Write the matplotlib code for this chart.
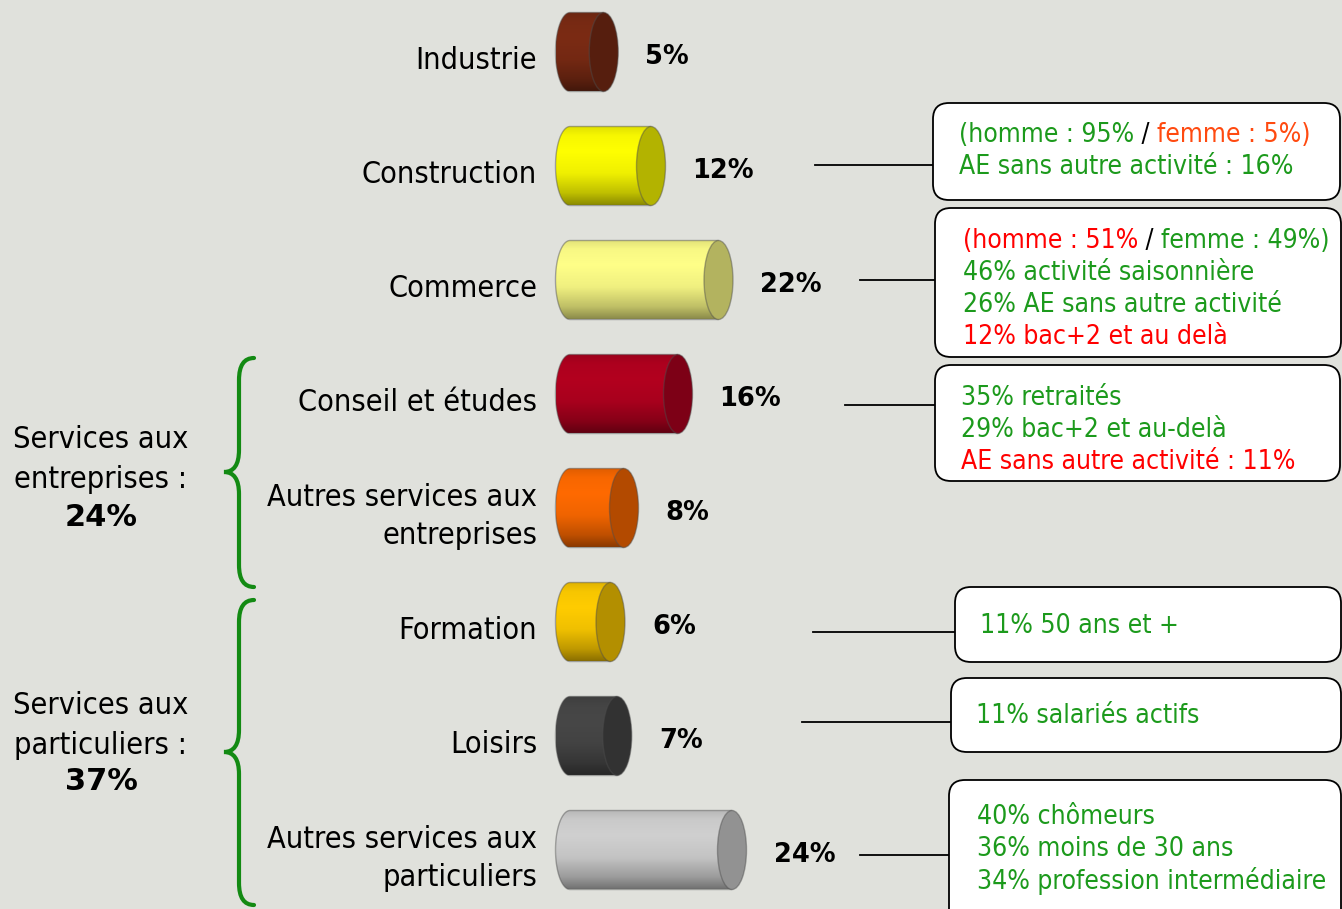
import numpy as np
import matplotlib
matplotlib.use("Agg")
import matplotlib.pyplot as plt
from matplotlib.patches import Ellipse, PathPatch, FancyBboxPatch
from matplotlib.path import Path
from matplotlib.colors import to_rgb

plt.rcParams["font.family"] = ["DejaVu Sans"]
plt.rcParams["font.stretch"] = "condensed"

# ---------------- data ----------------
categories = ["Industrie", "Construction", "Commerce", "Conseil et études",
              "Autres services aux\nentreprises", "Formation", "Loisirs",
              "Autres services aux\nparticuliers"]
values = [5, 12, 22, 16, 8, 6, 7, 24]
bar_colors = ["#7b2b14", "#ffff00", "#ffff88", "#b3001f",
              "#ff6a00", "#ffcc00", "#474747", "#d0d0d0"]

group_names = ["Services aux\nentreprises :", "Services aux\nparticuliers :"]
group_totals = ["24%", "37%"]

GREEN = "#1c9a1c"
RED = "#ff0000"
ORANGE = "#ff4a10"
BLACK = "#000000"
note_lines = [
    [[("(homme : 95%", GREEN), (" / ", BLACK), ("femme : 5%)", ORANGE)],
     [("AE sans autre activité : 16%", GREEN)]],
    [[("(homme : 51%", RED), (" / ", BLACK), ("femme : 49%)", GREEN)],
     [("46% activité saisonnière", GREEN)],
     [("26% AE sans autre activité", GREEN)],
     [("12% bac+2 et au delà", RED)]],
    [[("35% retraités", GREEN)],
     [("29% bac+2 et au-delà", GREEN)],
     [("AE sans autre activité : 11%", RED)]],
    [[("11% 50 ans et +", GREEN)]],
    [[("11% salariés actifs", GREEN)]],
    [[("40% chômeurs", GREEN)],
     [("36% moins de 30 ans", GREEN)],
     [("34% profession intermédiaire", GREEN)]],
]

# ---------------- layout (pixels) ----------------
W, H = 1342, 909
BG = "#e0e1dc"
PX_PER_PCT = 6.75
X0_PX = 570.0          # pixel x of value 0 (left ellipse centre)
ROW0_PX = 52.0         # pixel y of first category centre
ROW_STEP = 114.0
RX = 14.5 / PX_PER_PCT
RY = 39.5 / ROW_STEP
LABEL_FS = 22
PCT_FS = 18.5
NOTE_FS = 19

notes_layout = [
    dict(box=(933, 103, 1340, 200), line=(815, 933, 165), text=(959, 135)),
    dict(box=(935, 208, 1341, 357), line=(860, 935, 280), text=(963, 241)),
    dict(box=(935, 365, 1340, 481), line=(845, 935, 405), text=(961, 398)),
    dict(box=(955, 587, 1341, 662), line=(813, 955, 632), text=(980, 626)),
    dict(box=(951, 678, 1341, 752), line=(802, 951, 722), text=(976, 716)),
    dict(box=(949, 780, 1341, 930), line=(860, 949, 855), text=(977, 817)),
]
braces_layout = [(358, 472, 587), (600, 752, 905)]
group_text_layout = [(101, [440, 479, 517]), (101, [706, 745, 782])]

fig = plt.figure(figsize=(W / 100, H / 100), dpi=100, facecolor=BG)
ax = fig.add_axes([0, 0, 1, 1])
ax.set_facecolor(BG)
ax.axis("off")
xlim = (-X0_PX / PX_PER_PCT, (W - X0_PX) / PX_PER_PCT)
ylim = ((H - ROW0_PX) / ROW_STEP, -ROW0_PX / ROW_STEP)

ov = fig.add_axes([0, 0, 1, 1], facecolor="none")
ov.set_xlim(0, W)
ov.set_ylim(H, 0)
ov.axis("off")


def gradient_rgb(base, n=80):
    c = np.array(to_rgb(base))
    t = np.linspace(0, 1, n)
    f = np.interp(t, [0, 0.12, 0.32, 0.6, 0.85, 1.0], [0.88, 0.97, 1.0, 0.94, 0.75, 0.55])
    img = np.clip(c[None, :] * f[:, None], 0, 1)
    return np.repeat(img[:, None, :], 2, axis=1)


theta = np.linspace(-np.pi / 2, np.pi / 2, 60)
for i, (v, col) in enumerate(zip(values, bar_colors)):
    cy = i
    xl, xr = 0.0, v
    verts = [(xl - RX * np.cos(t), cy + RY * np.sin(t)) for t in theta]
    verts += [(xr, cy + RY), (xr, cy - RY), verts[0]]
    codes = [Path.MOVETO] + [Path.LINETO] * (len(verts) - 2) + [Path.CLOSEPOLY]
    body = Path(verts, codes)
    clip = PathPatch(body, facecolor="none", edgecolor="none", transform=ax.transData)
    ax.add_patch(clip)
    im = ax.imshow(gradient_rgb(col), extent=(xl - RX, xr + 0.01, cy + RY, cy - RY),
                   origin="upper", aspect="auto", interpolation="bilinear", zorder=2)
    im.set_clip_path(clip)
    ax.add_patch(PathPatch(body, facecolor="none", edgecolor=(0.3, 0.3, 0.3, 0.45),
                           lw=1.0, zorder=3))
    cap_c = np.array(to_rgb(col)) * 0.7
    ax.add_patch(Ellipse((xr, cy), 2 * RX, 2 * RY, facecolor=cap_c,
                         edgecolor=(0.3, 0.3, 0.3, 0.45), lw=1.0, zorder=4))
    ax.text(xr + RX + 27 / PX_PER_PCT, cy + 0.04, f"{v}%", ha="left", va="center",
            fontsize=PCT_FS, fontweight="bold", fontstretch="normal", color="black",
            zorder=5)
    ax.text(-(X0_PX - 537) / PX_PER_PCT, cy + 0.075, categories[i], ha="right",
            va="center", fontsize=LABEL_FS, color="black", linespacing=1.36, zorder=5)

ax.set_xlim(*xlim)
ax.set_ylim(*ylim)

# braces
BR_GREEN = "#138a13"
for (yt, ym, yb) in braces_layout:
    xl, xt, xh, r = 239, 224, 254, 22
    verts = [(xh, yt), (xl, yt), (xl, yt + r),
             (xl, ym - r), (xl, ym), (xt, ym),
             (xl, ym), (xl, ym + r),
             (xl, yb - r), (xl, yb), (xh, yb)]
    codes = [Path.MOVETO, Path.CURVE3, Path.CURVE3,
             Path.LINETO, Path.CURVE3, Path.CURVE3,
             Path.CURVE3, Path.CURVE3,
             Path.LINETO, Path.CURVE3, Path.CURVE3]
    ov.add_patch(PathPatch(Path(verts, codes), facecolor="none", edgecolor=BR_GREEN,
                           lw=3.0, capstyle="round"))

# group labels
for (gx, ys), name, tot in zip(group_text_layout, group_names, group_totals):
    l1, l2 = name.split("\n")
    ov.text(gx, ys[0], l1, ha="center", va="center", fontsize=LABEL_FS)
    ov.text(gx, ys[1], l2, ha="center", va="center", fontsize=LABEL_FS)
    ov.text(gx, ys[2], tot, ha="center", va="center", fontsize=LABEL_FS,
            fontweight="bold", fontstretch="normal")

# notes
fig.canvas.draw()
renderer = fig.canvas.get_renderer()


def text_width(s, size):
    t = ov.text(0, 0, s + "|", fontsize=size)
    w1 = t.get_window_extent(renderer).width
    t.remove()
    t = ov.text(0, 0, "|", fontsize=size)
    w2 = t.get_window_extent(renderer).width
    t.remove()
    return w1 - w2


for lay, lines in zip(notes_layout, note_lines):
    x0, y0, x1, y1 = lay["box"]
    ov.add_patch(FancyBboxPatch((x0, y0), x1 - x0, y1 - y0,
                                boxstyle="round,pad=0,rounding_size=16",
                                facecolor="white", edgecolor="black", lw=1.3, zorder=3))
    lx0, lx1, ly = lay["line"]
    ov.plot([lx0, lx1], [ly, ly], color="black", lw=1.3, zorder=2)
    tx, ty = lay["text"]
    for k, pieces in enumerate(lines):
        x = tx
        for s, c in pieces:
            ov.text(x, ty + 32 * k, s, ha="left", va="center", fontsize=NOTE_FS,
                    color=c, zorder=4)
            x += text_width(s, NOTE_FS)

fig.savefig("out.png", dpi=100, facecolor=BG)
